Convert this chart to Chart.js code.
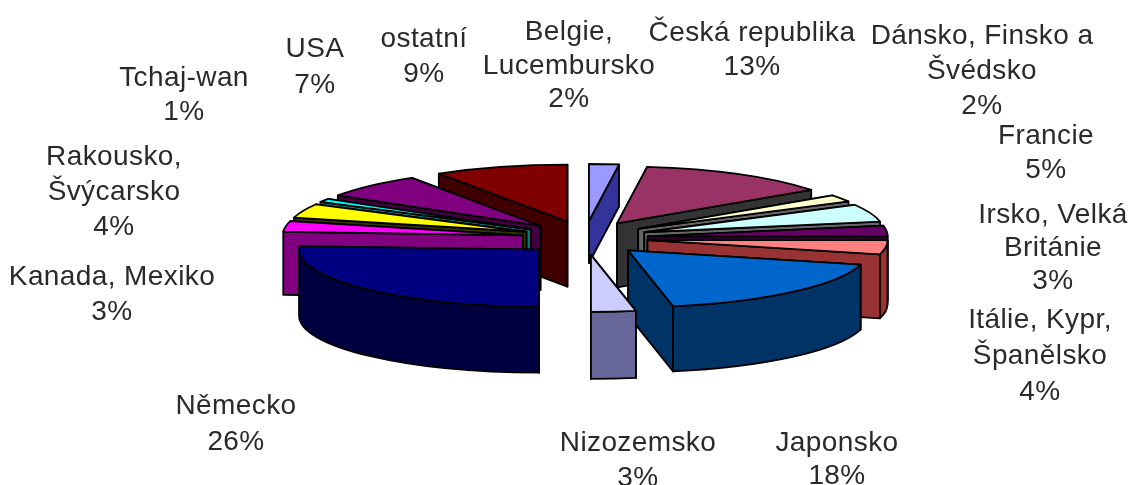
<!DOCTYPE html>
<html>
<head>
<meta charset="utf-8">
<style>
  html, body { margin: 0; padding: 0; background: #fff; }
  #wrap { width: 1128px; height: 485px; overflow: hidden; }
</style>
</head>
<body>
<div id="wrap"><canvas id="pie" width="1128" height="485"></canvas></div>
<script src="https://cdn.jsdelivr.net/npm/chart.js@4"></script>
<script>
const categories = ['Belgie, Lucembursko', 'Česká republika', 'Dánsko, Finsko a Švédsko', 'Francie', 'Irsko, Velká Británie', 'Itálie, Kypr, Španělsko', 'Japonsko', 'Nizozemsko', 'Německo', 'Kanada, Mexiko', 'Rakousko, Švýcarsko', 'Tchaj-wan', 'USA', 'ostatní']
const shares = [2, 13, 2, 5, 3, 4, 18, 3, 26, 3, 4, 1, 7, 9]

const topColors = ['#9999ff', '#993366', '#ffffcc', '#ccffff', '#660066', '#ff8080', '#0066cc', '#ccccff', '#000080', '#ff00ff', '#ffff00', '#00ffff', '#800080', '#800000']
const wallColors = ['#333399', '#333333', '#666666', '#666666', '#330033', '#993333', '#003366', '#666699', '#000040', '#800080', '#333300', '#008080', '#400040', '#400000']
const wallDepths = [42, 64, 64, 64, 64, 64, 65, 67, 66, 63, 64, 64, 64, 65]

// how each label is broken into lines, and where it sits: [centre x, first baseline, line pitch]
const labelLines = [['Belgie,', 'Lucembursko'], ['Česká republika'], ['Dánsko, Finsko a', 'Švédsko'], ['Francie'], ['Irsko, Velká', 'Británie'], ['Itálie, Kypr,', 'Španělsko'], ['Japonsko'], ['Nizozemsko'], ['Německo'], ['Kanada, Mexiko'], ['Rakousko,', 'Švýcarsko'], ['Tchaj-wan'], ['USA'], ['ostatní']]
const labelSpots = [[569, 40, 33.5], [752, 41, 34], [982, 44, 35], [1046, 144, 34], [1053, 223, 33], [1040, 328, 36], [837, 451, 33], [638, 451, 35], [236, 414, 36], [112, 285, 35], [114, 165, 35], [184, 86, 34], [315, 57, 36], [424, 47, 35]]

const SQUASH = 57 / 240   // vertical flattening of the pie
const EXPLODE = 63        // radial slice pull-out
const EXPLODE_FLAT = 0.27 // flattening of that pull-out

const pie3d = {
  id: 'pie3d',
  beforeDatasetDraw(chart, args) {
    const ctx = chart.ctx
    const arcs = args.meta.data

    const items = arcs.map((arc, i) => {
      const mid = (arc.startAngle + arc.endAngle) / 2
      return {
        arc, i, mid,
        ax: arc.x + Math.cos(mid) * EXPLODE,
        ay: arc.y + Math.sin(mid) * EXPLODE * EXPLODE_FLAT,
      }
    })
    // back slices first
    items.sort((a, b) => Math.sin(a.mid) - Math.sin(b.mid))

    ctx.save()
    ctx.lineWidth = 1.8
    ctx.lineJoin = 'round'
    ctx.strokeStyle = '#000'

    items.forEach(({ arc, i, ax, ay }) => {
      const r = arc.outerRadius
      const d = wallDepths[i]
      const ry = r * SQUASH
      ctx.fillStyle = wallColors[i]

      // cut faces, the further one first
      const cuts = [arc.startAngle, arc.endAngle].sort((p, q) => Math.sin(p) - Math.sin(q))
      cuts.forEach(a => {
        const px = ax + Math.cos(a) * r
        const py = ay + Math.sin(a) * ry
        ctx.beginPath()
        ctx.moveTo(ax, ay)
        ctx.lineTo(px, py)
        ctx.lineTo(px, py + d)
        ctx.lineTo(ax, ay + d)
        ctx.closePath()
        ctx.fill()
        ctx.stroke()
      })

      // rim, only the front half shows
      const lo = Math.max(arc.startAngle, 0)
      const hi = Math.min(arc.endAngle, Math.PI)
      if (lo < hi) {
        ctx.beginPath()
        ctx.ellipse(ax, ay, r, ry, 0, lo, hi)
        ctx.ellipse(ax, ay + d, r, ry, 0, hi, lo, true)
        ctx.closePath()
        ctx.fill()
        ctx.stroke()
      }

      // top face: the library's own arc, flattened
      ctx.save()
      ctx.translate(ax, ay)
      ctx.scale(1, SQUASH)
      ctx.translate(-arc.x, -arc.y)
      arc.draw(ctx)
      ctx.restore()

      ctx.beginPath()
      ctx.moveTo(ax, ay)
      ctx.ellipse(ax, ay, r, ry, 0, arc.startAngle, arc.endAngle)
      ctx.closePath()
      ctx.stroke()
    })
    ctx.restore()
    return false
  },
  afterDraw(chart) {
    const ctx = chart.ctx
    ctx.save()
    ctx.font = '28px "Liberation Sans"'
    ctx.letterSpacing = '0.4px'
    ctx.fillStyle = '#2a2a2a'
    ctx.textAlign = 'center'
    ctx.textBaseline = 'alphabetic'
    categories.forEach((c, i) => {
      const [x, y, pitch] = labelSpots[i]
      const lines = [...labelLines[i], shares[i] + '%']
      lines.forEach((t, n) => ctx.fillText(t, x, y + n * pitch))
    })
    ctx.restore()
  },
}

new Chart(document.getElementById('pie'), {
  type: 'pie',
  data: {
    labels: categories,
    datasets: [{ data: shares, backgroundColor: topColors, borderWidth: 0 }],
  },
  options: {
    responsive: false, animation: false, radius: 240,
    layout: { padding: { left: 42, bottom: 9 } },
    plugins: { legend: { display: false }, tooltip: { enabled: false } },
  },
  plugins: [pie3d],
})
</script>
</body>
</html>
